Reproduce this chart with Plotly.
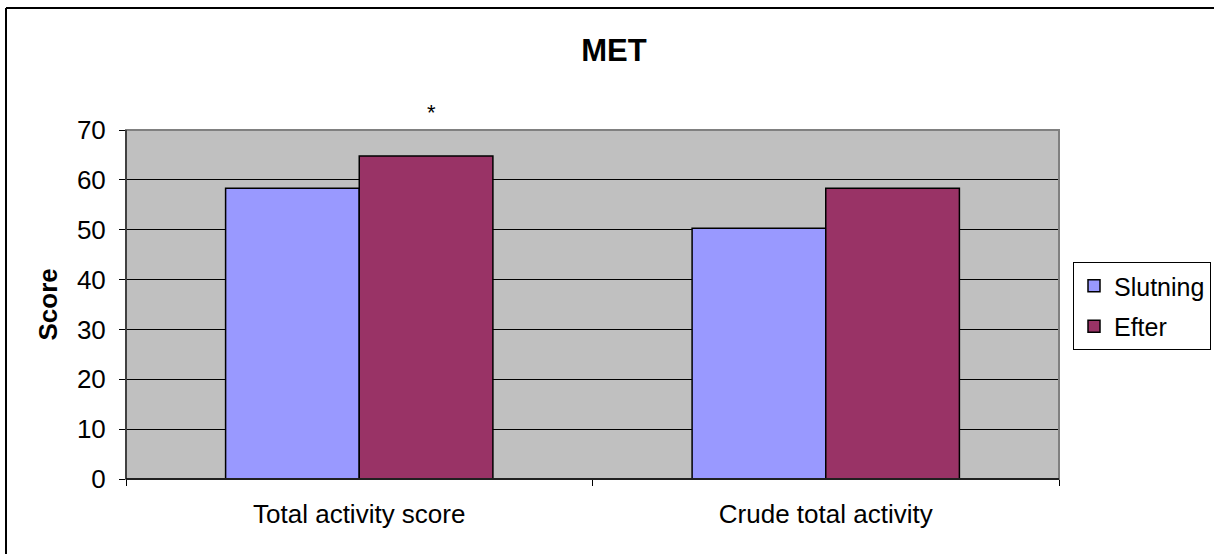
import plotly.graph_objects as go

categories = ["Total activity score", "Crude total activity"]
slutning = [58.3, 50.3]
efter = [64.8, 58.3]
y_ticks = [0, 10, 20, 30, 40, 50, 60, 70]

W, H = 1214, 554
L, R, T, B = 126, 155, 130, 75
pw, ph = W - L - R, H - T - B

def px_x(x):
    return (x - L) / pw

def px_y(y):
    return (H - B - y) / ph

FONT = "Liberation Sans, Arial, sans-serif"

fig = go.Figure()
fig.add_trace(go.Bar(
    x=categories, y=slutning, name="Slutning", legendgroup="a",
    marker=dict(color="#9999FF", line=dict(color="#000000", width=1.5)),
))
fig.add_trace(go.Bar(
    x=categories, y=efter, name="Efter", legendgroup="b",
    marker=dict(color="#993366", line=dict(color="#000000", width=1.5)),
))

fig.update_layout(
    width=W, height=H,
    margin=dict(l=L, r=R, t=T, b=B, autoexpand=False),
    paper_bgcolor="#FFFFFF",
    plot_bgcolor="#C0C0C0",
    barmode="group",
    bargap=0.427,
    bargroupgap=0,
    font=dict(family=FONT, size=26, color="#000000"),
    title=dict(
        text="<b>MET</b>", x=614 / W, xref="container", xanchor="center",
        y=1 - 50 / H, yref="container", yanchor="middle",
        font=dict(family=FONT, size=31, color="#000000"),
    ),
    legend=dict(
        xref="container", yref="container",
        x=1073 / W, y=1 - 262 / H, xanchor="left", yanchor="top",
        bgcolor="#FFFFFF", bordercolor="#000000", borderwidth=1,
        font=dict(family=FONT, size=25, color="#000000"),
        traceorder="grouped", tracegroupgap=5,
    ),
    showlegend=True,
)

fig.update_xaxes(
    showline=True, linecolor="#000000", linewidth=1,
    ticks="outside", tickson="boundaries", ticklen=6, tickcolor="#000000",
    showgrid=False, ticklabelstandoff=12,
    tickfont=dict(family=FONT, size=26, color="#000000"),
)
fig.update_yaxes(
    range=[0, 70], tickvals=y_ticks, ticktext=[str(v) for v in y_ticks],
    showline=True, linecolor="#000000", linewidth=1,
    ticks="outside", ticklen=6, tickcolor="#000000",
    showgrid=True, gridcolor="#000000", gridwidth=1,
    zeroline=False, ticklabelstandoff=8,
    tickfont=dict(family=FONT, size=26, color="#000000"),
)

# plot-area frame (grey top and right edges)
fig.add_shape(type="rect", xref="paper", yref="paper", x0=0, x1=1, y0=0, y1=1,
              line=dict(color="#808080", width=2), fillcolor="rgba(0,0,0,0)", layer="above")
# redraw black axes on top of the frame
fig.add_shape(type="line", xref="paper", yref="paper", x0=0, x1=0, y0=0, y1=1,
              line=dict(color="#000000", width=1), layer="above")
fig.add_shape(type="line", xref="paper", yref="paper", x0=0, x1=1, y0=0, y1=0,
              line=dict(color="#000000", width=1.5), layer="above")

# outer chart border: left and top edges (the rest runs off the page)
fig.add_shape(type="line", xref="paper", yref="paper",
              x0=px_x(6), x1=px_x(6), y0=px_y(600), y1=px_y(8),
              line=dict(color="#000000", width=2), layer="above")
fig.add_shape(type="line", xref="paper", yref="paper",
              x0=px_x(6), x1=px_x(1260), y0=px_y(8), y1=px_y(8),
              line=dict(color="#000000", width=2), layer="above")

# y-axis title
fig.add_annotation(
    text="<b>Score</b>", xref="paper", yref="paper", x=px_x(47), y=0.5,
    xanchor="center", yanchor="middle", textangle=-90, showarrow=False,
    font=dict(family=FONT, size=26, color="#000000"),
)

# significance marker above the Efter bar of the first group
fig.add_annotation(
    text="*", xref="x", yref="y", x=categories[0], y=efter[0],
    xshift=72, yshift=29, yanchor="bottom", showarrow=False,
    font=dict(family=FONT, size=22, color="#000000"),
)

fig.write_html("out.html")
